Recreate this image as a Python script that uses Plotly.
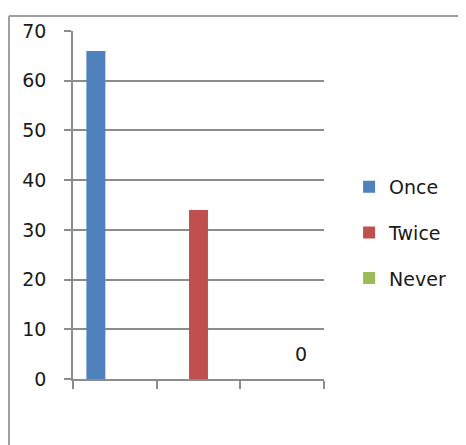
import plotly.graph_objects as go

categories = ["1", "2", "3"]
series_names = ["Once", "Twice", "Never"]
once_values = [66, None, None]
twice_values = [None, 34, None]
never_values = [None, None, 0]
colors = ["#4F81BD", "#C0504D", "#9BBB59"]

FONT = "DejaVu Sans"
TXT = "#1a1a1a"
GRID = "#8c8c8c"

fig = go.Figure()
series_values = [once_values, twice_values, never_values]
for name, vals, col in zip(series_names, series_values, colors):
    kw = {}
    if name == "Never":
        kw = dict(texttemplate="<span style='font-size:19px'>%{y}</span><br> ",
                  textposition="outside", textfont=dict(family=FONT, size=10, color=TXT),
                  cliponaxis=False)
    fig.add_trace(go.Bar(x=categories, y=vals, name=name, marker_color=col,
                         marker_line_width=0, legendgroup=name, **kw))

fig.update_layout(
    width=458, height=437,
    margin=dict(l=65, r=142, t=21, b=66),
    paper_bgcolor="white", plot_bgcolor="white",
    barmode="group", bargap=0.32, bargroupgap=0,
    font=dict(family=FONT, size=19, color=TXT),
    showlegend=True,
    legend=dict(x=1.1, xanchor="left", y=0.42, yanchor="middle",
                traceorder="grouped", tracegroupgap=18,
                font=dict(family=FONT, size=19, color=TXT),
                bgcolor="rgba(0,0,0,0)"),
    xaxis=dict(type="category", showticklabels=False, tickson="boundaries",
               ticks="outside", ticklen=8, tickcolor=GRID, tickwidth=1.5,
               showline=True, linecolor=GRID, linewidth=1.5, showgrid=False,
               zeroline=False),
    yaxis=dict(range=[0, 70], dtick=10, ticks="outside", ticklen=7,
               tickcolor=GRID, tickwidth=1.5, showline=True, linecolor=GRID,
               linewidth=1.5, showgrid=True, gridcolor=GRID, gridwidth=1.5,
               zeroline=False, ticklabelstandoff=14,
               tickfont=dict(family=FONT, size=19, color=TXT)),
    shapes=[
        dict(type="line", xref="paper", yref="paper", x0=-0.255, x1=-0.255,
             y0=-0.3, y1=1.043, line=dict(color="#a0a0a0", width=2)),
        dict(type="line", xref="paper", yref="paper", x0=-0.255, x1=1.7,
             y0=1.043, y1=1.043, line=dict(color="#a0a0a0", width=2)),
    ],
)

fig.write_html("out.html")
